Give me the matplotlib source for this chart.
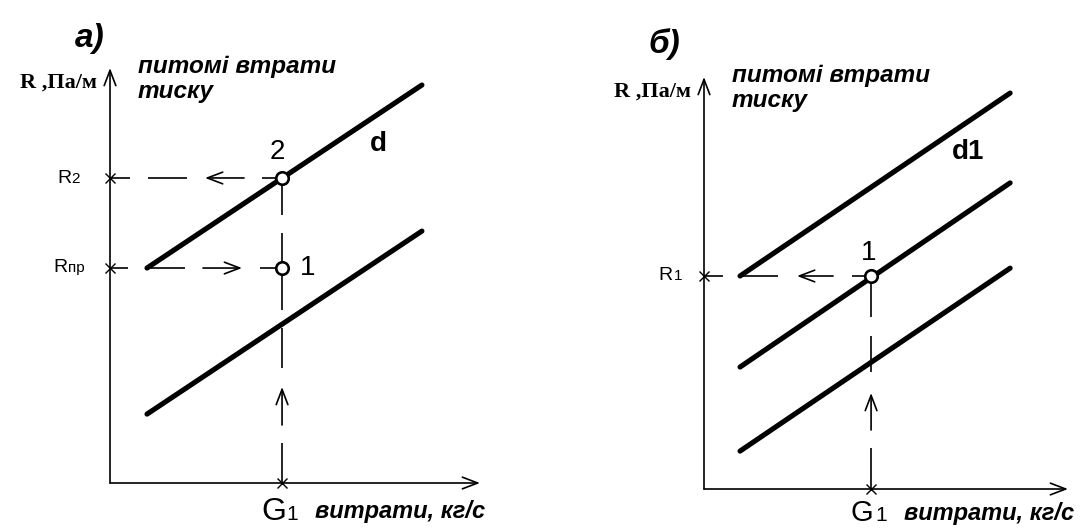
import numpy as np
import matplotlib
matplotlib.use("Agg")
import matplotlib.pyplot as plt

# ---------------- data (arbitrary schematic units, axes 0..10) ----------------
# panel а)
A_G1 = 4.65
A_R2 = 7.35
A_Rpr = 5.18
A_d_x = [1.0, 8.43]
A_d_y = [5.18, 9.59]
A_low_x = [1.0, 8.43]
A_low_y = [1.66, 6.07]
# panel б)
B_G1 = 4.59
B_R1 = 5.17
B_x = [0.99, 8.41]
B_top_y = [5.17, 9.61]
B_mid_y = [2.96, 7.43]
B_bot_y = [0.92, 5.36]

panel_titles = ["а)", "б)"]
y_label = "R ,Па/м"
y_desc = ["питомі втрати", "тиску"]
x_desc = "витрати, кг/с"

W, H = 1090, 528
fig = plt.figure(figsize=(W / 100, H / 100), dpi=100)
fig.patch.set_facecolor("white")

SANS = "Liberation Sans"
SERIF = "Liberation Serif"
PX = 0.72  # points per pixel
AX_LW = 1.2
THICK = 3.7
HEAD = dict(arrowstyle="->,head_length=1.1,head_width=0.42", lw=AX_LW,
            color="black", shrinkA=0, shrinkB=0, mutation_scale=10)


def make_axes(left, bottom, width, height):
    ax = fig.add_axes([left / W, bottom / H, width / W, height / H])
    ax.set_xlim(0, 10)
    ax.set_ylim(0, 10)
    ax.axis("off")
    ax.annotate("", xy=(10, 0), xytext=(0, 0), arrowprops=HEAD, annotation_clip=False)
    ax.annotate("", xy=(0, 10), xytext=(0, 0), arrowprops=HEAD, annotation_clip=False)
    return ax


def leader(ax, p0, p1, pattern):
    P0 = ax.transData.transform(p0)
    P1 = ax.transData.transform(p1)
    L = np.hypot(*(P1 - P0))
    u = (P1 - P0) / L
    inv = ax.transData.inverted()
    pos = 0.0
    for i, (kind, ln) in enumerate(pattern):
        end = L if i == len(pattern) - 1 else min(pos + ln, L)
        a = inv.transform(P0 + u * pos)
        b = inv.transform(P0 + u * end)
        if kind == "d":
            ax.plot([a[0], b[0]], [a[1], b[1]], color="black", lw=AX_LW,
                    solid_capstyle="butt", clip_on=False, zorder=2)
        elif kind == "a":
            ax.annotate("", xy=b, xytext=a, arrowprops=HEAD, annotation_clip=False)
        pos = end


def off_text(ax, xy, dx, dy, s, **kw):
    ax.annotate(s, xy=xy, xytext=(dx * PX, dy * PX), textcoords="offset points",
                annotation_clip=False, **kw)


def tick_cross(ax, x, y):
    ax.plot([x], [y], marker="x", ms=7, mew=1.0, color="black", clip_on=False, zorder=3)


def circle(ax, x, y):
    ax.plot([x], [y], marker="o", ms=9, mew=1.9, mfc="white", mec="black",
            clip_on=False, zorder=5)


def common_labels(ax, title, tdx, tdy):
    off_text(ax, (0, 10), tdx, tdy, title, fontsize=24, fontweight="bold",
             fontstyle="italic", family=SANS, ha="center", va="center")
    off_text(ax, (0, 10), -13, -20, y_label, fontsize=16, fontweight="bold",
             family=SERIF, ha="right", va="baseline")
    off_text(ax, (0, 10), 28, -5, y_desc[0], fontsize=17.5, fontweight="bold",
             fontstyle="italic", family=SANS, ha="left", va="baseline")
    off_text(ax, (0, 10), 28, -30, y_desc[1], fontsize=17.5, fontweight="bold",
             fontstyle="italic", family=SANS, ha="left", va="baseline")


def g_label(ax, g, dy, xdy, gsize=23):
    off_text(ax, (g, 0), -21, dy, "G", fontsize=gsize, family=SANS, ha="left", va="baseline")
    off_text(ax, (g, 0), 4, dy, "1", fontsize=15, family=SANS, ha="left", va="baseline")
    off_text(ax, (g, 0), 33, xdy, x_desc, fontsize=17, fontweight="bold",
             fontstyle="italic", family=SANS, ha="left", va="baseline")


def r_label(ax, r, main_dx, sub_dx, sub, dy=-4):
    off_text(ax, (0, r), main_dx, dy, "R", fontsize=14, family=SANS, ha="left", va="baseline")
    off_text(ax, (0, r), sub_dx, dy, sub, fontsize=11, family=SANS, ha="left", va="baseline")


# ================= panel а) =================
axA = make_axes(110, 45, 370, 415)
axA.plot(A_d_x, A_d_y, color="black", lw=THICK, solid_capstyle="round", zorder=4)
axA.plot(A_low_x, A_low_y, color="black", lw=THICK, solid_capstyle="round", zorder=4)

leader(axA, (A_G1, A_R2), (0, A_R2),
       [("d", 20), ("g", 18), ("a", 39), ("g", 18), ("d", 39), ("g", 18), ("d", 30)])
leader(axA, (0, A_Rpr), (A_G1, A_Rpr),
       [("d", 18), ("g", 18), ("d", 39), ("g", 18), ("a", 39), ("g", 18), ("d", 30)])
leader(axA, (A_G1, 0), (A_G1, A_R2),
       [("d", 40), ("g", 18), ("a", 38), ("g", 19), ("d", 40), ("g", 18),
        ("d", 77), ("g", 18), ("d", 40)])

for (x, y) in [(0, A_R2), (0, A_Rpr), (A_G1, 0)]:
    tick_cross(axA, x, y)
circle(axA, A_G1, A_R2)
circle(axA, A_G1, A_Rpr)

common_labels(axA, panel_titles[0], -20, 30)
off_text(axA, (A_G1, A_R2), -5, 26, "2", fontsize=20, family=SANS, ha="center", va="center")
off_text(axA, (A_G1, A_Rpr), 26, 0, "1", fontsize=20, family=SANS, ha="center", va="center")
off_text(axA, (A_d_x[1], A_d_y[1]), -44, -59, "d", fontsize=20, fontweight="bold",
         family=SANS, ha="center", va="center")
r_label(axA, A_R2, -53, -39, "2", dy=-5)
r_label(axA, A_Rpr, -57, -42, "пр", dy=-4)
g_label(axA, A_G1, -37, -35)

# ================= panel б) =================
axB = make_axes(704, 39, 364, 412)
for ys in (B_top_y, B_mid_y, B_bot_y):
    axB.plot(B_x, ys, color="black", lw=THICK, solid_capstyle="round", zorder=4)

leader(axB, (B_G1, B_R1), (0, B_R1),
       [("d", 19), ("g", 19), ("a", 36), ("g", 19), ("d", 38), ("g", 17), ("d", 20)])
leader(axB, (B_G1, 0), (B_G1, B_R1),
       [("d", 41), ("g", 18), ("a", 37), ("g", 21), ("d", 36), ("g", 19), ("d", 41)])

for (x, y) in [(0, B_R1), (B_G1, 0)]:
    tick_cross(axB, x, y)
circle(axB, B_G1, B_R1)

common_labels(axB, panel_titles[1], -40, 33)
off_text(axB, (B_G1, B_R1), -2, 23, "1", fontsize=20, family=SANS, ha="center", va="center")
off_text(axB, (B_x[1], B_top_y[1]), -42, -59, "d1", fontsize=20, fontweight="bold",
         family=SANS, ha="center", va="center")
r_label(axB, B_R1, -46, -30, "1", dy=-4)
g_label(axB, B_G1, -32, -31, gsize=21)

fig.savefig("out.png", dpi=100, facecolor="white")
